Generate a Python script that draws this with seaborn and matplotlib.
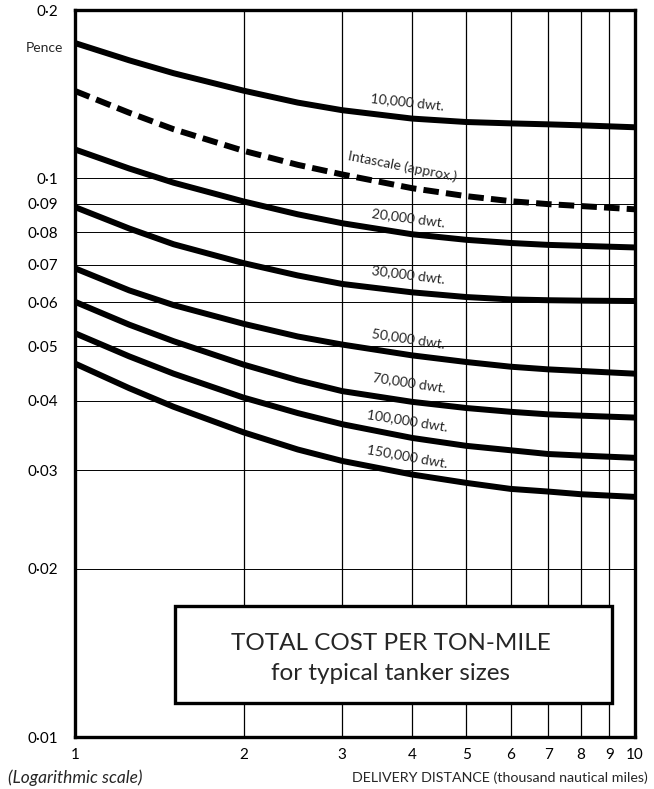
import numpy as np
import pandas as pd
import matplotlib
matplotlib.use("Agg")
import matplotlib.pyplot as plt
import seaborn as sns
from matplotlib.patches import Rectangle

# delivery distance, thousand nautical miles
distance = [1, 1.25, 1.5, 2, 2.5, 3, 4, 5, 6, 7, 8, 10]

# total cost per ton-mile, pence
dwt_10000 = [0.1746, 0.1626, 0.1542, 0.1435, 0.1366, 0.1324, 0.1279, 0.1261, 0.1254, 0.1249, 0.1244, 0.1234]
intascale = [0.1433, 0.1310, 0.1224, 0.1120, 0.1057, 0.1016, 0.0960, 0.0929, 0.0910, 0.0899, 0.0892, 0.0880]
dwt_20000 = [0.1126, 0.1041, 0.0982, 0.0909, 0.0862, 0.0831, 0.0794, 0.0776, 0.0766, 0.0760, 0.0757, 0.0752]
dwt_30000 = [0.0888, 0.0813, 0.0762, 0.0705, 0.0670, 0.0647, 0.0625, 0.0613, 0.0607, 0.0605, 0.0604, 0.0603]
dwt_50000 = [0.0690, 0.0630, 0.0593, 0.0549, 0.0521, 0.0504, 0.0482, 0.0469, 0.0460, 0.0455, 0.0452, 0.0447]
dwt_70000 = [0.0601, 0.0547, 0.0511, 0.0464, 0.0435, 0.0416, 0.0398, 0.0388, 0.0382, 0.0378, 0.0376, 0.0373]
dwt_100000 = [0.0528, 0.0480, 0.0447, 0.0405, 0.0380, 0.0363, 0.0343, 0.0332, 0.0326, 0.0321, 0.0319, 0.0316]
dwt_150000 = [0.0466, 0.0421, 0.0390, 0.0351, 0.0327, 0.0312, 0.0295, 0.0285, 0.0278, 0.0275, 0.0272, 0.0269]

series = {
    "10,000 dwt.": dwt_10000,
    "Intascale (approx.)": intascale,
    "20,000 dwt.": dwt_20000,
    "30,000 dwt.": dwt_30000,
    "50,000 dwt.": dwt_50000,
    "70,000 dwt.": dwt_70000,
    "100,000 dwt.": dwt_100000,
    "150,000 dwt.": dwt_150000,
}

# label anchor (x, y) and rotation for each curve
label_pos = {
    "10,000 dwt.": (3.92, 0.1372, -6),
    "Intascale (approx.)": (3.85, 0.1050, -11),
    "20,000 dwt.": (3.94, 0.0850, -7.5),
    "30,000 dwt.": (3.94, 0.0673, -7),
    "50,000 dwt.": (3.94, 0.0517, -8.5),
    "70,000 dwt.": (3.96, 0.0430, -8.5),
    "100,000 dwt.": (3.92, 0.0369, -9),
    "150,000 dwt.": (3.92, 0.0318, -10),
}

x_ticks = [1, 2, 3, 4, 5, 6, 7, 8, 9, 10]
y_ticks = [0.01, 0.02, 0.03, 0.04, 0.05, 0.06, 0.07, 0.08, 0.09, 0.1, 0.2]
y_labels = ["0·01", "0·02", "0·03", "0·04", "0·05", "0·06", "0·07", "0·08", "0·09", "0·1", "0·2"]

rows = []
for name, vals in series.items():
    for d, v in zip(distance, vals):
        rows.append({"distance": d, "cost": v, "ship": name})
df = pd.DataFrame(rows)

sns.set_style("white")
plt.rcParams["font.family"] = ["Lato", "DejaVu Sans"]

fig = plt.figure(figsize=(6.54, 7.89), dpi=100)
ax = fig.add_axes([0.1147, 0.0659, 0.856, 0.9213])

ax.set_xscale("log")
ax.set_yscale("log")

for name in series:
    sub = df[df.ship == name]
    ls = (0, (2.6, 1.2)) if name.startswith("Intascale") else "-"
    sns.lineplot(data=sub, x="distance", y="cost", ax=ax, color="black",
                 lw=4.3, linestyle=ls, legend=False, zorder=3)
    lx, ly, rot = label_pos[name]
    ax.text(lx, ly, name, fontsize=10, rotation=rot, ha="center", va="center",
            zorder=4, rotation_mode="anchor")

ax.set_xlim(1, 10)
ax.set_ylim(0.01, 0.2)
ax.set_xticks(x_ticks)
ax.set_xticklabels([str(t) for t in x_ticks])
ax.set_yticks(y_ticks)
ax.set_yticklabels(y_labels)
ax.minorticks_off()
ax.tick_params(axis="both", length=0, labelsize=11, colors="black")
ax.tick_params(axis="x", pad=8)
ax.tick_params(axis="y", pad=12)

for t in x_ticks[1:-1]:
    ax.axvline(t, color="black", lw=0.9, zorder=1)
for t in y_ticks[1:-1]:
    ax.axhline(t, color="black", lw=0.7, zorder=1)

for s in ax.spines.values():
    s.set_color("black")
    s.set_linewidth(2.4)

ax.set_xlabel("")
ax.set_ylabel("")

box = Rectangle((0.1786, 0.047), 0.780, 0.133, transform=ax.transAxes,
                facecolor="white", edgecolor="black", lw=2.4, zorder=5)
ax.add_patch(box)
ax.text(0.564, 0.129, "TOTAL COST PER TON-MILE", transform=ax.transAxes,
        ha="center", va="center", fontsize=17.5, zorder=6)
ax.text(0.564, 0.088, "for typical tanker sizes", transform=ax.transAxes,
        ha="center", va="center", fontsize=17.5, zorder=6)

fig.text(44 / 654, 1 - 48 / 789, "Pence", ha="center", va="center", fontsize=10)
fig.text(8 / 654, 1 - 778 / 789, "(Logarithmic scale)", ha="left", va="center",
         fontsize=12.5, style="italic")
fig.text(648 / 654, 1 - 778 / 789, "DELIVERY DISTANCE (thousand nautical miles)",
         ha="right", va="center", fontsize=10.3)

fig.savefig("out.png", dpi=100, facecolor="white")
